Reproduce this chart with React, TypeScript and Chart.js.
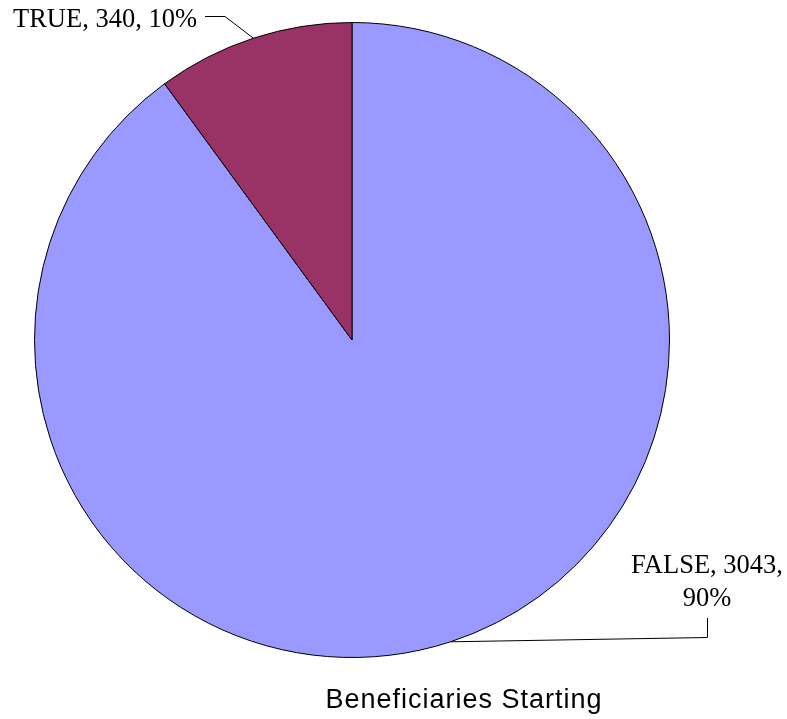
import React, { useEffect, useRef } from "react";
import { Chart, registerables } from "chart.js";

Chart.register(...registerables);

const categories = ["FALSE", "TRUE"];
const values = [3043, 340];
const colors = ["#9999FF", "#993366"];
const chartTitle = "Beneficiaries Starting";

const labelPlugin = {
  id: "pieLabels",
  afterDraw(chart: any) {
    const ctx = chart.ctx;
    const meta = chart.getDatasetMeta(0);
    const total = values.reduce((a, b) => a + b, 0);
    const texts = values.map(
      (v, i) => `${categories[i]}, ${v}, ${Math.round((v / total) * 100)}%`
    );
    const edge = (i: number) => {
      const arc = meta.data[i];
      const p = arc.getProps(["x", "y", "startAngle", "endAngle", "outerRadius"], true);
      const mid = (p.startAngle + p.endAngle) / 2;
      return { x: p.x + Math.cos(mid) * p.outerRadius, y: p.y + Math.sin(mid) * p.outerRadius };
    };
    ctx.save();
    ctx.fillStyle = "#000";
    ctx.strokeStyle = "#000";
    ctx.lineWidth = 1;
    ctx.font = '26.5px "Liberation Serif", "Times New Roman", serif';

    // TRUE label (top-left)
    const e1 = edge(1);
    ctx.textAlign = "left";
    ctx.textBaseline = "alphabetic";
    ctx.fillText(texts[1], 13, 27);
    ctx.beginPath();
    ctx.moveTo(205, 16.5);
    ctx.lineTo(225, 16.5);
    ctx.lineTo(e1.x, e1.y);
    ctx.stroke();

    // FALSE label (bottom-right), two lines
    const e0 = edge(0);
    const parts = texts[0].split(", ");
    ctx.textAlign = "center";
    ctx.fillText(`${parts[0]}, ${parts[1]},`, 707, 573);
    ctx.fillText(parts[2], 707, 606);
    ctx.beginPath();
    ctx.moveTo(707.5, 618);
    ctx.lineTo(707.5, 637.5);
    ctx.lineTo(e0.x, e0.y);
    ctx.stroke();

    // title
    ctx.font = '27px "Liberation Sans", Arial, sans-serif';
    (ctx as any).letterSpacing = "1px";
    ctx.textAlign = "left";
    const w = ctx.measureText(chartTitle).width;
    ctx.fillText(chartTitle, 464 - w / 2, 708);
    ctx.restore();
  },
};

export default function App() {
  const ref = useRef<HTMLCanvasElement>(null);
  useEffect(() => {
    if (!ref.current) return;
    const chart = new Chart(ref.current, {
      type: "pie",
      data: {
        labels: categories,
        datasets: [
          {
            data: values,
            backgroundColor: colors,
            borderColor: "#000000",
            borderWidth: 1,
          },
        ],
      },
      options: {
        responsive: false,
        animation: false,
        layout: { padding: { left: 34, top: 22, right: 117, bottom: 61 } },
        plugins: {
          legend: { display: false },
          tooltip: { enabled: false },
          title: { display: false },
        },
      },
      plugins: [labelPlugin],
    });
    return () => chart.destroy();
  }, []);
  return (
    <div style={{ position: "fixed", left: 0, top: 0, width: 787, height: 719, background: "#fff" }}>
      <canvas ref={ref} width={787} height={719} style={{ width: 787, height: 719 }} />
    </div>
  );
}
